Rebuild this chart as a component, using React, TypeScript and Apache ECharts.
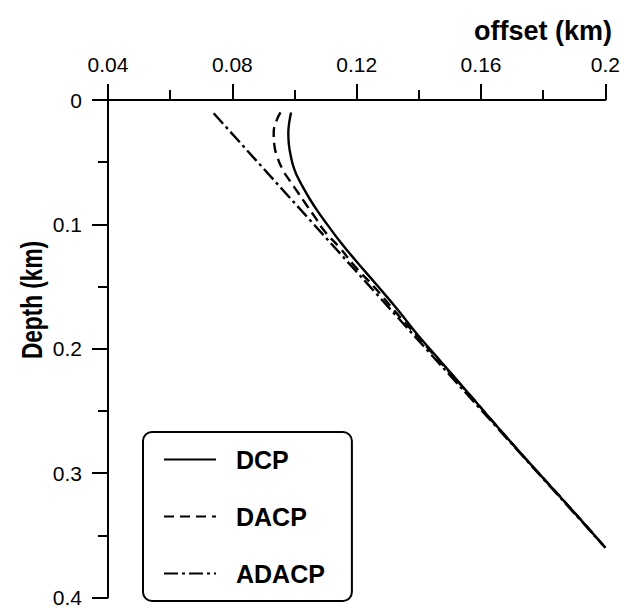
import React, { useEffect, useRef } from "react";
import * as echarts from "echarts";

const seriesNames = ["DCP", "DACP", "ADACP"];

// [offset (km), depth (km)]
const dcpData: number[][] = [
  [0.0989, 0.010], [0.0983, 0.018], [0.0980, 0.027], [0.0982, 0.036], [0.0988, 0.045],
  [0.0997, 0.054], [0.1010, 0.062], [0.1027, 0.070], [0.1050, 0.080], [0.1076, 0.090],
  [0.1105, 0.100], [0.1150, 0.115], [0.1200, 0.130], [0.1262, 0.148], [0.1330, 0.168],
  [0.1400, 0.190], [0.1470, 0.210], [0.1560, 0.236], [0.1650, 0.262], [0.1760, 0.293],
  [0.1880, 0.326], [0.2000, 0.360],
];

const dacpData: number[][] = [
  [0.0955, 0.010], [0.0940, 0.018], [0.0933, 0.027], [0.0935, 0.036], [0.0945, 0.046],
  [0.0962, 0.056], [0.0985, 0.065], [0.1010, 0.074], [0.1040, 0.085], [0.1068, 0.095],
  [0.1095, 0.105], [0.1146, 0.119], [0.1195, 0.134], [0.1255, 0.150], [0.1320, 0.169],
  [0.1395, 0.190], [0.1470, 0.211], [0.1560, 0.236], [0.1650, 0.262], [0.1760, 0.293],
  [0.1880, 0.326], [0.2000, 0.360],
];

const adacpData: number[][] = [
  [0.0740, 0.0107], [0.2000, 0.360],
];

const xTicks = { min: 0.04, max: 0.2, interval: 0.04 };
const yTicks = { min: 0, max: 0.4, interval: 0.1 };

const FONT = "'Liberation Sans', Arial, Helvetica, sans-serif";

export default function App() {
  const ref = useRef<HTMLDivElement>(null);
  useEffect(() => {
    if (!ref.current) return;
    const chart = echarts.init(ref.current, null, { renderer: "svg" });
    const lineBase = { color: "#000", width: 2.4 };
    const axisCommon = {
      axisLine: { show: true, onZero: false, lineStyle: { color: "#000", width: 2 } },
      axisTick: { show: true, length: 16, lineStyle: { color: "#000", width: 2 } },
      minorTick: { show: true, splitNumber: 2, length: 10, lineStyle: { color: "#000", width: 2 } },
      splitLine: { show: false },
      minorSplitLine: { show: false },
    };
    const labelCommon = {
      color: "#000",
      fontSize: 21,
      fontFamily: FONT,
      formatter: (v: number) => String(Number(v.toFixed(2))),
    };
    chart.setOption({
      animation: false,
      backgroundColor: "#fff",
      textStyle: { fontFamily: FONT },
      grid: { left: 108, top: 100, width: 500, height: 501, containLabel: false },
      xAxis: {
        type: "value",
        position: "top",
        min: xTicks.min,
        max: xTicks.max,
        interval: xTicks.interval,
        ...axisCommon,
        axisLabel: { ...labelCommon, margin: 25 },
      },
      yAxis: {
        type: "value",
        inverse: true,
        min: yTicks.min,
        max: yTicks.max,
        interval: yTicks.interval,
        ...axisCommon,
        axisLabel: { ...labelCommon, margin: 26 },
      },
      legend: {
        show: true,
        orient: "vertical",
        left: 143,
        top: 432,
        padding: [15, 27, 15, 20],
        itemWidth: 52,
        itemHeight: 14,
        itemGap: 32,
        backgroundColor: "#fff",
        borderColor: "#000",
        borderWidth: 2,
        borderRadius: 9,
        selectedMode: false,
        itemStyle: { color: "transparent", borderWidth: 0, opacity: 0 },
        textStyle: {
          fontFamily: FONT,
          fontWeight: "bold",
          fontSize: 25,
          color: "#000",
          padding: [0, 0, 0, 15],
        },
        data: seriesNames,
      },
      graphic: [
        {
          type: "text",
          x: 612,
          y: 31,
          style: {
            text: "offset (km)",
            fontFamily: FONT,
            fontWeight: "bold",
            fontSize: 27,
            fill: "#000",
            align: "right",
            verticalAlign: "middle",
          },
        },
        {
          type: "text",
          x: 32,
          y: 300,
          rotation: Math.PI / 2,
          scaleX: 0.78,
          style: {
            text: "Depth (km)",
            fontFamily: FONT,
            fontWeight: "bold",
            fontSize: 29,
            fill: "#000",
            align: "center",
            verticalAlign: "middle",
          },
        },
      ],
      series: [
        {
          name: seriesNames[0],
          type: "line",
          data: dcpData,
          showSymbol: false,
          symbol: "none",
          smooth: 0.5,
          lineStyle: { ...lineBase, type: "solid" },
          itemStyle: { color: "#000" },
        },
        {
          name: seriesNames[1],
          type: "line",
          data: dacpData,
          showSymbol: false,
          symbol: "none",
          smooth: 0.5,
          lineStyle: { ...lineBase, type: [10, 6] },
          itemStyle: { color: "#000" },
        },
        {
          name: seriesNames[2],
          type: "line",
          data: adacpData,
          showSymbol: false,
          symbol: "none",
          lineStyle: { ...lineBase, type: [14, 4, 3, 4] },
          itemStyle: { color: "#000" },
        },
      ],
    });
    return () => chart.dispose();
  }, []);
  return <div ref={ref} style={{ width: 623, height: 608, position: "absolute", left: 0, top: 0 }} />;
}
